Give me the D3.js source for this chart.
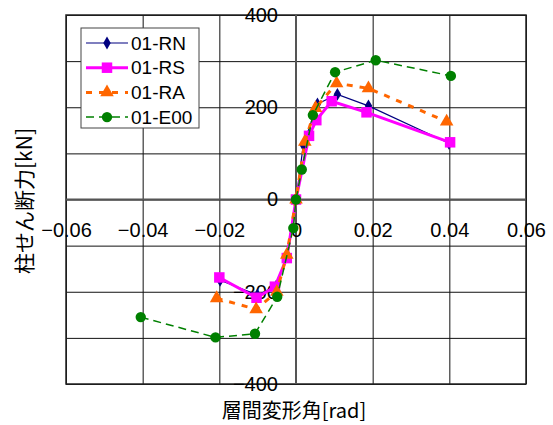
<!DOCTYPE html>
<html>
<head>
<meta charset="utf-8">
<script src="https://cdn.jsdelivr.net/npm/d3@7"></script>
<style>
  html, body { margin: 0; padding: 0; background: #fff; }
  svg { display: block; }
  text { font-family: "Liberation Sans", Arial, sans-serif; fill: #000; }
  .cjk { font-family: "Noto Sans CJK JP", "Noto Sans", sans-serif; }
</style>
</head>
<body>
<svg id="chart" width="553" height="425"></svg>
<script>
// Story drift angle [rad] vs column shear force [kN] for four specimens
const seriesNames = ["01-RN", "01-RS", "01-RA", "01-E00"];

const rnDrift  = [-0.0198, -0.0101, -0.0052, -0.0024, 0, 0.0019, 0.0056, 0.0108, 0.0189, 0.0399];
const rnShear  = [-175, -207, -188, -122, 0, 118, 207, 228, 203, 122];

const rsDrift  = [-0.0200, -0.0103, -0.0055, -0.0024, 0, 0.0034, 0.0053, 0.0093, 0.0184, 0.0402];
const rsShear  = [-169, -213, -189, -127, 0, 138, 172, 213, 189, 124];

const raDrift  = [-0.0207, -0.0104, -0.0050, -0.0024, 0, 0.0023, 0.0051, 0.0106, 0.0189, 0.0393];
const raShear  = [-214, -238, -200, -120, 0, 125, 198, 252, 241, 169];

const e00Drift = [-0.0405, -0.0210, -0.0107, -0.0049, -0.0007, 0, 0.0015, 0.0044, 0.0102, 0.0208, 0.0404];
const e00Shear = [-255, -299, -291, -211, -62, 0, 65, 183, 276, 302, 268];

const xTicks = [-0.06, -0.04, -0.02, 0, 0.02, 0.04, 0.06];
const yTicks = [-400, -300, -200, -100, 0, 100, 200, 300, 400];
const yLabelTicks = [-400, -200, 0, 200, 400];

const xTitle = "層間変形角[rad]";
const yTitle = "柱せん断力[kN]";

const svg = d3.select("#chart");
const W = 553, H = 425;
const plot = { left: 66, right: 526, top: 15, bottom: 384 };

const x = d3.scaleLinear().domain([-0.06, 0.06]).range([plot.left, plot.right]);
const y = d3.scaleLinear().domain([-400, 400]).range([plot.bottom, plot.top]);

svg.append("rect").attr("width", W).attr("height", H).attr("fill", "#fff");

// grid lines
const gridX = svg.append("g")
  .attr("transform", `translate(0,${plot.bottom})`)
  .call(d3.axisBottom(x).tickValues(xTicks).tickSize(-(plot.bottom - plot.top)).tickFormat(""));
const gridY = svg.append("g")
  .attr("transform", `translate(${plot.left},0)`)
  .call(d3.axisLeft(y).tickValues(yTicks).tickSize(-(plot.right - plot.left)).tickFormat(""));
[gridX, gridY].forEach(g => {
  g.select(".domain").remove();
  g.selectAll(".tick line").attr("stroke", "#111").attr("stroke-width", 1);
});

// plot border
svg.append("rect")
  .attr("x", plot.left).attr("y", plot.top)
  .attr("width", plot.right - plot.left).attr("height", plot.bottom - plot.top)
  .attr("fill", "none").attr("stroke", "#222").attr("stroke-width", 1.5);

// axes crossing at the origin
svg.append("line")
  .attr("x1", plot.left).attr("x2", plot.right)
  .attr("y1", y(0)).attr("y2", y(0))
  .attr("stroke", "#555").attr("stroke-width", 2);
svg.append("line")
  .attr("x1", x(0)).attr("x2", x(0))
  .attr("y1", plot.top).attr("y2", plot.bottom)
  .attr("stroke", "#555").attr("stroke-width", 2);

// tick labels next to the zero axes
const xFmt = d => d === 0 ? "0" : d3.format(".2f")(d);
const xAxis = svg.append("g")
  .attr("transform", `translate(0,${y(0)})`)
  .call(d3.axisBottom(x).tickValues(xTicks).tickSize(0).tickPadding(23).tickFormat(xFmt));
const yAxis = svg.append("g")
  .attr("transform", `translate(${x(0)},0)`)
  .call(d3.axisLeft(y).tickValues(yLabelTicks).tickSize(0).tickPadding(18).tickFormat(d3.format("d")));
[xAxis, yAxis].forEach(g => {
  g.select(".domain").remove();
  g.selectAll("text")
    .attr("font-family", '"Liberation Sans", Arial, sans-serif')
    .attr("font-size", 20).attr("fill", "#000");
});

// axis titles
svg.append("text").attr("class", "cjk")
  .attr("x", 294).attr("y", 409)
  .attr("text-anchor", "middle").attr("dominant-baseline", "central")
  .attr("font-size", 20).text(xTitle);
svg.append("text").attr("class", "cjk")
  .attr("transform", "translate(23,201) rotate(-90)")
  .attr("text-anchor", "middle").attr("dominant-baseline", "central")
  .attr("font-size", 21).text(yTitle);

// series definitions
const series = [
  { name: seriesNames[0], xs: rnDrift, ys: rnShear, color: "#000080", width: 1.2, dash: null, symbol: d3.symbolDiamond, size: 48 },
  { name: seriesNames[1], xs: rsDrift, ys: rsShear, color: "#ff00ff", width: 3, dash: null, symbol: d3.symbolSquare, size: 110 },
  { name: seriesNames[2], xs: raDrift, ys: raShear, color: "#ff6600", width: 3, dash: "6,7", symbol: d3.symbolTriangle, size: 80 },
  { name: seriesNames[3], xs: e00Drift, ys: e00Shear, color: "#008000", width: 1.5, dash: "8,5", symbol: d3.symbolCircle, size: 85 }
];

const line = d3.line().x(d => x(d[0])).y(d => y(d[1]));

series.forEach(s => {
  const pts = s.xs.map((v, i) => [v, s.ys[i]]);
  const g = svg.append("g");
  g.append("path")
    .attr("d", line(pts))
    .attr("fill", "none")
    .attr("stroke", s.color)
    .attr("stroke-width", s.width)
    .attr("stroke-dasharray", s.dash);
  g.selectAll("path.m").data(pts).join("path")
    .attr("class", "m")
    .attr("transform", d => `translate(${x(d[0])},${y(d[1])})`)
    .attr("d", d3.symbol().type(s.symbol).size(s.size))
    .attr("fill", s.color);
});

// legend
const lg = svg.append("g");
lg.append("rect")
  .attr("x", 81).attr("y", 28).attr("width", 118).attr("height", 100)
  .attr("fill", "#fff").attr("stroke", "#444").attr("stroke-width", 1);
series.forEach((s, i) => {
  const cy = 43 + i * 24.7;
  lg.append("line")
    .attr("x1", 86).attr("x2", 128).attr("y1", cy).attr("y2", cy)
    .attr("stroke", s.color).attr("stroke-width", s.width)
    .attr("stroke-dasharray", s.dash);
  lg.append("path")
    .attr("transform", `translate(107,${cy})`)
    .attr("d", d3.symbol().type(s.symbol).size(s.size))
    .attr("fill", s.color);
  lg.append("text")
    .attr("x", 131).attr("y", cy)
    .attr("dominant-baseline", "central")
    .attr("font-size", 19).text(s.name);
});
</script>
</body>
</html>
